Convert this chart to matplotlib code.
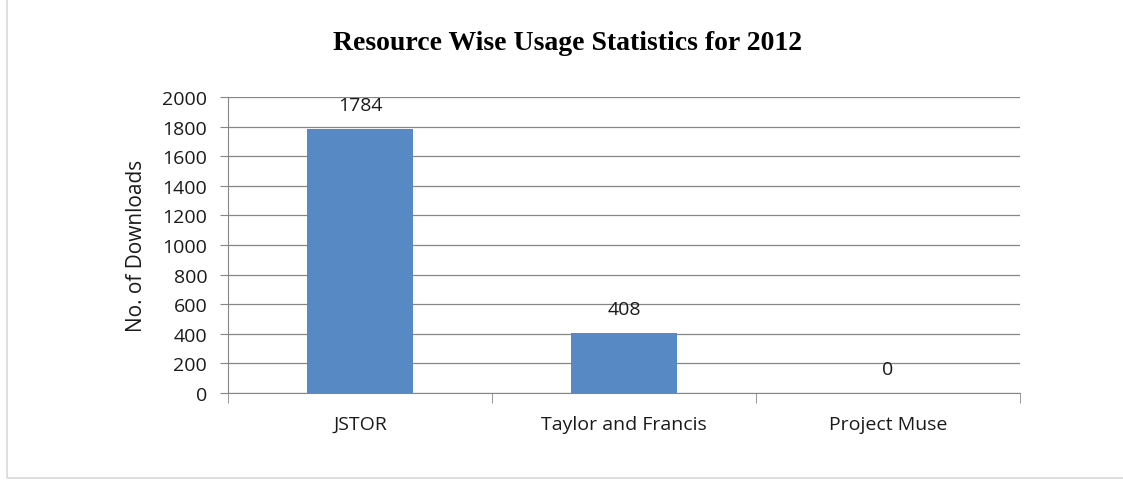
import matplotlib.pyplot as plt
from matplotlib.patches import Rectangle

resources = ["JSTOR", "Taylor and Francis", "Project Muse"]
downloads = [1784, 408, 0]
y_ticks = list(range(0, 2001, 200))

bar_color = "#578AC4"
grid_color = "#868686"
text_color = "#1A1A1A"

plt.rcParams["font.family"] = ["Open Sans", "DejaVu Sans"]

fig = plt.figure(figsize=(11.23, 4.81), dpi=100)
# рамка вокруг диаграммы
fig.patches.append(Rectangle((7 / 1123, 2 / 481), 1.1, 1.1, transform=fig.transFigure,
                             fill=False, edgecolor="#D9D9D9", linewidth=1.2))

ax = fig.add_axes([228 / 1123, 1 - 394 / 481, (1020 - 228) / 1123, (394 - 98) / 481])
x = list(range(len(resources)))
ax.bar(x, downloads, width=0.4, color=bar_color, zorder=3)
for xi, v in zip(x, downloads):
    ax.annotate(str(v), (xi, v), xytext=(0, 17), textcoords="offset points",
                ha="center", va="center", fontsize=14, color=text_color, zorder=4)

ax.set_xlim(-0.5, len(resources) - 0.5)
ax.set_ylim(0, 2000)
ax.set_yticks(y_ticks)
ax.yaxis.grid(True, color=grid_color, linewidth=0.9, zorder=0)
ax.set_xticks(x)
ax.set_xticklabels(resources, fontsize=14, color=text_color)
ax.tick_params(axis="x", length=0, pad=16)
ax.tick_params(axis="y", length=6, color=grid_color, labelsize=14, labelcolor=text_color, pad=9)
# деления между категориями
ax.set_xticks([-0.5, 0.5, 1.5, 2.5], minor=True)
ax.tick_params(axis="x", which="minor", length=7, color=grid_color)

for s in ["top", "right"]:
    ax.spines[s].set_visible(False)
for s in ["left", "bottom"]:
    ax.spines[s].set_color(grid_color)

ax.set_ylabel("No. of Downloads", fontsize=15, labelpad=11, color=text_color)
fig.text(568 / 1123, 1 - 44 / 481, "Resource Wise Usage Statistics for 2012", ha="center", va="center",
         fontsize=20, fontweight="bold", family="Liberation Serif")

fig.savefig("out.png", dpi=100)
